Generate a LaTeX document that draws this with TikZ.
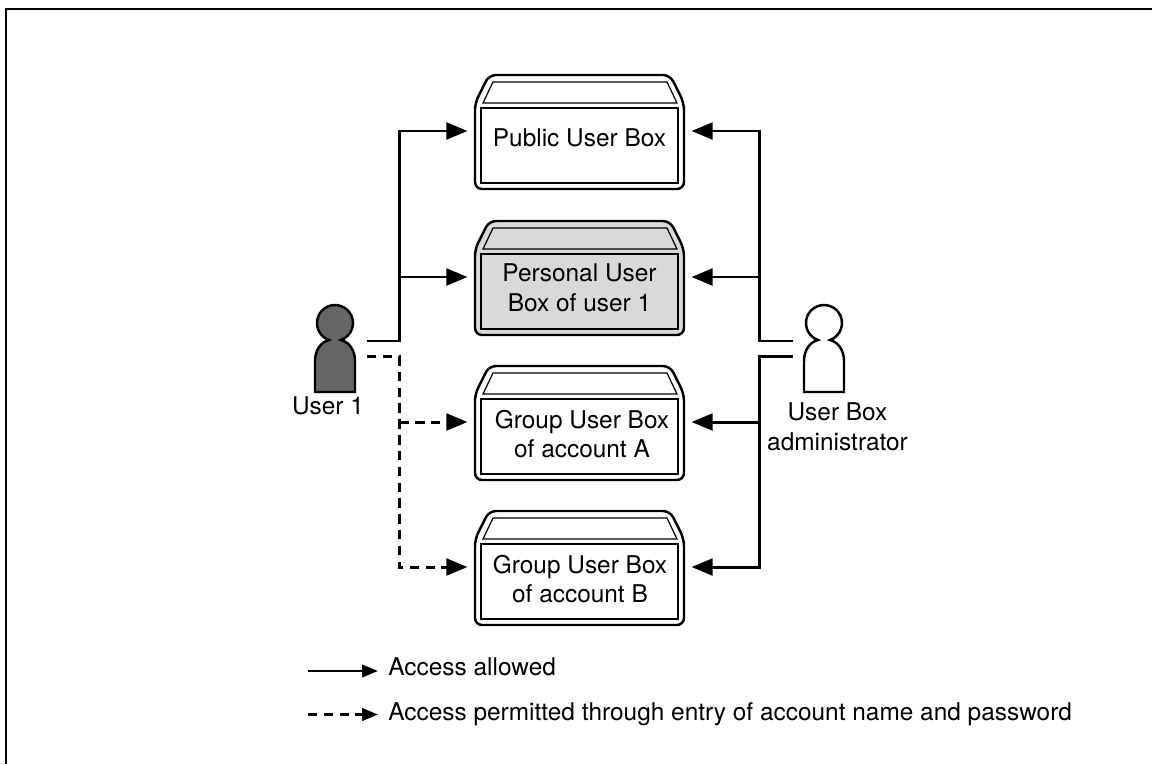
\documentclass[tikz,border=0pt]{standalone}
\usepackage{fontspec}
\setmainfont{TeX Gyre Heros}
\usetikzlibrary{calc, arrows.meta}
\definecolor{boxgray}{HTML}{D9D9D9}
\definecolor{usergray}{HTML}{666666}
\tikzset{
	frameline/.style={line width=1.3pt},
	access/.style={line width=1.7pt, -{Triangle[length=12pt,width=9.5pt]}},
	accessdash/.style={line width=1.7pt, dash pattern=on 5.4pt off 3.6pt, -{Triangle[length=12pt,width=9.5pt]}},
	keyarrow/.style={line width=1.5pt, -{Triangle[length=9pt,width=7pt]}},
	keydash/.style={keyarrow, dash pattern=on 5.4pt off 3.6pt},
	boxspot/.style={minimum width=4.48cm, minimum height=2cm, inner sep=0pt, outer sep=0pt},
	boxtext/.style={align=center, font=\fontsize{13.9pt}{17pt}\selectfont},
	labeltext/.style={align=center, font=\fontsize{13.9pt}{17pt}\selectfont},
	keytext/.style={anchor=base west, inner sep=0pt, font=\fontsize{13.9pt}{17pt}\selectfont}
}
% name, top of the box, fill, text x, text offset, text
\newcommand{\userbox}[6]{
	\draw[line width=1.4pt, fill=#3, rounded corners=4pt] (475,#2+114) -- (475,#2+28) -- (489,#2) -- (670,#2) -- (684,#2+28) -- (684,#2+114) -- cycle;
	\draw[line width=.7pt] (483,#2+28) -- (493,#2+7) -- (667,#2+7) -- (677,#2+28) -- cycle;
	\draw[line width=.7pt] (481,#2+33) rectangle (678,#2+108);
	\node[boxspot] (#1) at (579.5,#2+56) {};
	\node[boxtext] (#1text) at (#4,#2+#5) {#6};
}
% name, x of the head, fill
\newcommand{\person}[3]{
	\draw[line width=1.4pt, fill=#3] (#2-6,340) arc[start angle=109.4, end angle=430.6, radius=18] .. controls (#2+14,342) and (#2+20,350) .. (#2+20,361) -- (#2+20,392) -- (#2-20,392) -- (#2-20,361) .. controls (#2-20,350) and (#2-14,342) .. (#2-6,340) -- cycle;
}
\begin{document}
\begin{tikzpicture}[x=.02cm,y=-.02cm]
\useasboundingbox (0,0) rectangle (1152,764);
\draw[frameline] (6,764) -- (6,9) -- (1152,9);

\userbox{public}{75}{white}{579.5}{63}{Public User Box}
\userbox{personal}{221}{boxgray}{579.5}{67}{Personal User\\Box of user 1}
\userbox{groupa}{366}{white}{582}{68}{Group User Box\\of account A}
\userbox{groupb}{511}{white}{580}{68}{Group User Box\\of account B}

\person{userone}{335}{usergray}
\person{admin}{824}{white}
\node[labeltext] (userlabel) at (328,406) {User 1};
\node[labeltext] (adminlabel) at (837.5,427) {User Box\\administrator};

\coordinate (busl) at (399.3,0);
\coordinate (busr) at (759.3,0);
\coordinate (usersolid) at (367,341);
\coordinate (userdash) at (367,356.7);
\coordinate (adminup) at (792.7,341);
\coordinate (admindown) at (792.7,356.7);

\draw[access] (usersolid) -- (usersolid -| busl) |- (public.west);
\draw[access] (personal.west -| busl) -- (personal.west);
\draw[accessdash] (userdash) -- (userdash -| busl) |- (groupb.west);
\draw[accessdash] (groupa.west -| busl) -- (groupa.west);

\draw[access] (adminup) -- (adminup -| busr) |- (public.east);
\draw[access] (personal.east -| busr) -- (personal.east);
\draw[access] (admindown) -- (admindown -| busr) |- (groupb.east);
\draw[access] (groupa.east -| busr) -- (groupa.east);

\coordinate (keyastart) at (308,671);
\coordinate (keyaend) at (378,671);
\coordinate (keybstart) at (308,714.5);
\coordinate (keybend) at (378,714.5);
\draw[keyarrow] (keyastart) -- (keyaend);
\draw[keydash] (keybstart) -- (keybend);
\node[keytext] (keya) at (388,675.5) {Access allowed};
\node[keytext] (keyb) at (388,720) {Access permitted through entry of account name and password};
\end{tikzpicture}
\end{document}
